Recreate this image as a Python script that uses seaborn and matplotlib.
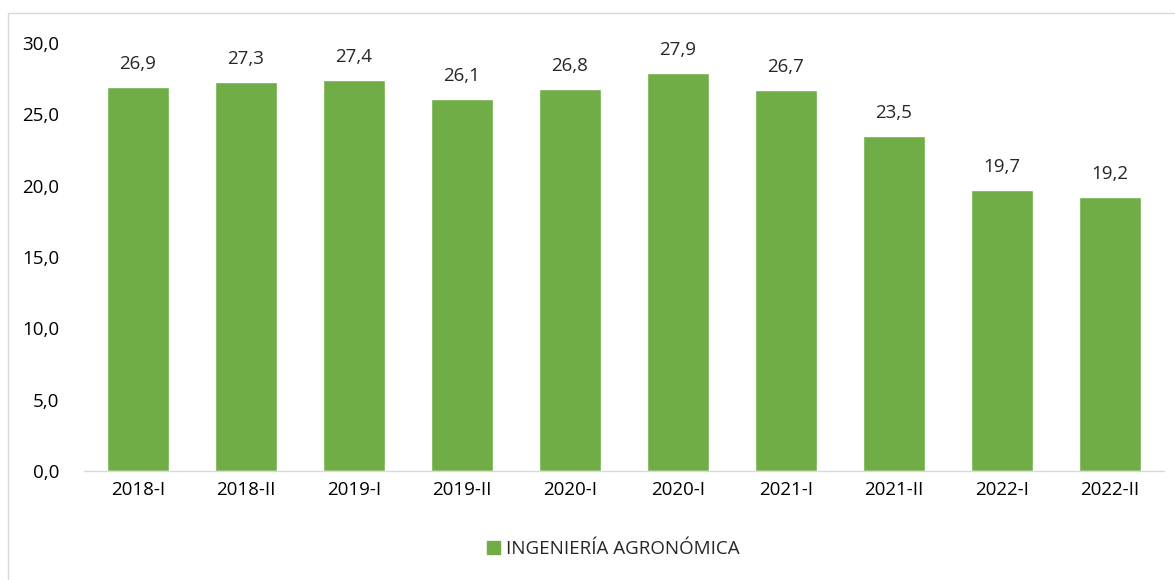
import pandas as pd
import matplotlib.pyplot as plt
import seaborn as sns
from matplotlib.patches import Rectangle, Patch

# Datos del gráfico
periodos = ["2018-I", "2018-II", "2019-I", "2019-II", "2020-I",
            "2020-I", "2021-I", "2021-II", "2022-I", "2022-II"]
valores = [26.9, 27.3, 27.4, 26.1, 26.8, 27.9, 26.7, 23.5, 19.7, 19.2]
serie = "INGENIERÍA AGRONÓMICA"

verde = "#70AD47"
fs = 13.5

sns.set_style("white")
plt.rcParams["font.family"] = ["Open Sans", "DejaVu Sans"]

df = pd.DataFrame({"periodo": range(len(periodos)), "valor": valores})

fig = plt.figure(figsize=(11.75, 5.8), dpi=100)
ax = fig.add_axes([84 / 1175, 1 - 471 / 580, 1080 / 1175, 428 / 580])

sns.barplot(data=df, x="periodo", y="valor", color=verde, width=0.57,
            saturation=1, ax=ax)

ax.set_ylim(0, 30)
ax.set_yticks([0, 5, 10, 15, 20, 25, 30])
ax.set_yticklabels([f"{v:.1f}".replace(".", ",") for v in ax.get_yticks()],
                   fontsize=fs)
ax.set_xticks(range(len(periodos)))
ax.set_xticklabels(periodos, fontsize=fs)
ax.tick_params(axis="both", length=0, colors="#000000")
ax.tick_params(axis="y", pad=18)
ax.tick_params(axis="x", pad=7)
ax.set_xlabel("")
ax.set_ylabel("")

for s in ["top", "right", "left"]:
    ax.spines[s].set_visible(False)
ax.spines["bottom"].set_color("#D9D9D9")
ax.spines["bottom"].set_linewidth(1)

# Etiquetas de datos
for i, v in enumerate(valores):
    ax.annotate(f"{v:.1f}".replace(".", ","), (i, v), xytext=(0, 10),
                textcoords="offset points", ha="center", va="bottom",
                fontsize=fs)

# Borde del área del gráfico (sin borde inferior visible)
fig.patches.append(Rectangle((8 / 1175, -0.05), 1175, 1.05 - 13 / 580,
                             transform=fig.transFigure, fill=False,
                             edgecolor="#D9D9D9", linewidth=1))

fig.legend(handles=[Patch(color=verde, label=serie)], loc="center",
           bbox_to_anchor=(0.522, 1 - 549 / 580), frameon=False, fontsize=fs,
           handlelength=0.7, handleheight=0.7, handletextpad=0.3)

plt.savefig("out.png", dpi=100)
